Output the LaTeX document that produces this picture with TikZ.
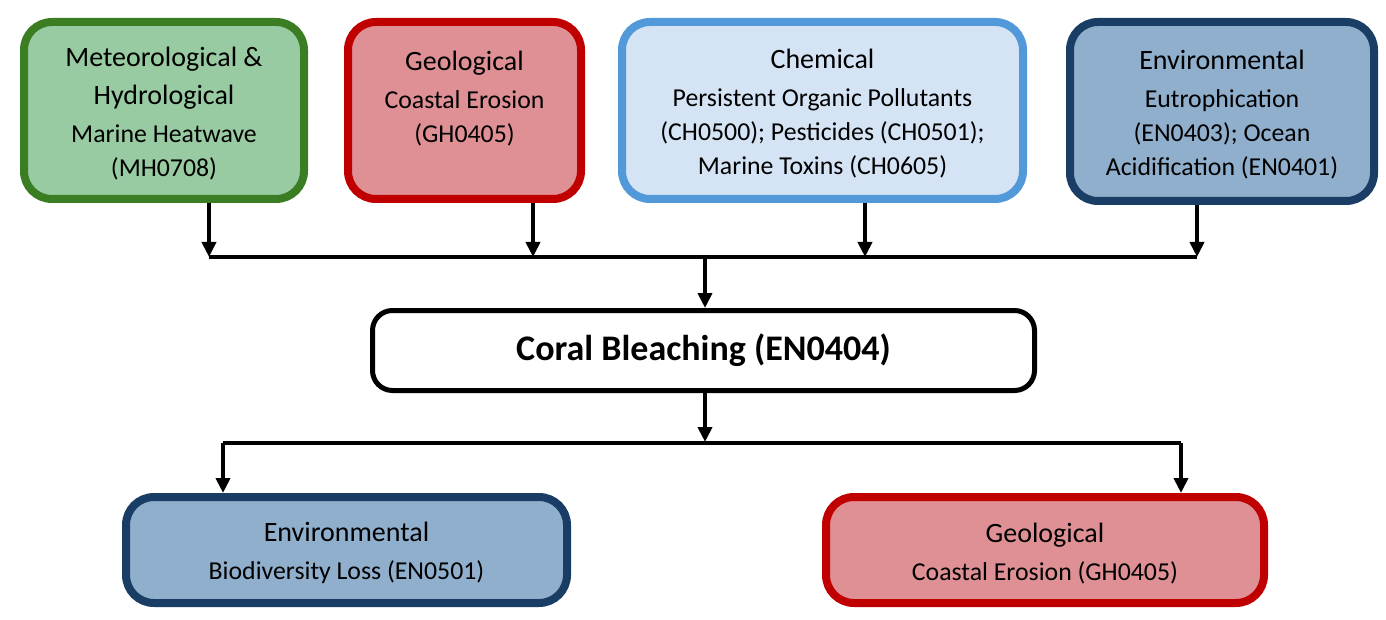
\documentclass[tikz,border=0pt]{standalone}
\usepackage{fontspec}
\setmainfont{Carlito}
\usetikzlibrary{arrows.meta}

\definecolor{metfill}{HTML}{98CBA1}
\definecolor{metline}{HTML}{3B7D23}
\definecolor{geofill}{HTML}{DF9095}
\definecolor{geoline}{HTML}{C00000}
\definecolor{chemfill}{HTML}{D5E4F5}
\definecolor{chemline}{HTML}{5299DA}
\definecolor{envfill}{HTML}{90AFCC}
\definecolor{envline}{HTML}{193D64}

\newcommand{\hd}[1]{{\fontsize{14}{17}\selectfont\rule{0pt}{13pt}#1}}

\begin{document}
\begin{tikzpicture}[x=0.5pt, y=-0.5pt,
    hazard/.style={draw, line width=4pt, rounded corners=14pt, align=center, inner sep=0pt,
      font=\fontsize{12.9}{17}\selectfont},
    wire/.style={line width=2pt},
    arr/.style={line width=2pt, -{Triangle[width=7pt,length=7.5pt]}}]
  \useasboundingbox (0,0) rectangle (1386,620);

  % hazard boxes on top
  \node[hazard, fill=metfill, draw=metline, minimum width=140pt, minimum height=88.5pt]
    (met) at (164,110.5) {\hd{Meteorological \&}\\[2pt]\hd{Hydrological}\\[2pt]Marine Heatwave\\(MH0708)};
  \node[hazard, fill=geofill, draw=geoline, minimum width=116.5pt, minimum height=88.5pt]
    (geo) at (464.5,110.5) {\hd{Geological}\\[2pt]Coastal Erosion\\(GH0405)\\\mbox{}};
  \node[hazard, fill=chemfill, draw=chemline, minimum width=200.5pt, minimum height=88.5pt]
    (chem) at (822.5,110.5) {\hd{Chemical}\\[2pt]Persistent Organic Pollutants\\(CH0500); Pesticides (CH0501);\\Marine Toxins (CH0605)};
  \node[hazard, fill=envfill, draw=envline, minimum width=152pt, minimum height=89.5pt]
    (env) at (1222,111.5) {\hd{Environmental}\\[2pt]Eutrophication\\(EN0403); Ocean\\Acidification (EN0401)};

  % the event
  \node[draw, line width=2.5pt, rounded corners=10pt, fill=white, minimum width=331pt, minimum height=40pt,
    font=\fontsize{18}{20}\selectfont\bfseries] (coral) at (703.5,350.5) {Coral Bleaching (EN0404)};

  % consequences
  \node[hazard, fill=envfill, draw=envline, minimum width=220.5pt, minimum height=53pt]
    (bio) at (346.5,550) {\hd{Environmental}\\[2pt]Biodiversity Loss (EN0501)};
  \node[hazard, fill=geofill, draw=geoline, minimum width=219pt, minimum height=53pt]
    (ero) at (1045,550) {\hd{Geological}\\[2pt]Coastal Erosion (GH0405)};

  % upper bus
  \coordinate (b1) at (209,257);
  \coordinate (b2) at (533,257);
  \coordinate (b3) at (865,257);
  \coordinate (b4) at (1197,257);
  \coordinate (bm) at (705,257);
  \draw[wire] (b1) -- (b4);
  \draw[arr] (met.south -| b1) -- (b1);
  \draw[arr] (geo.south -| b2) -- (b2);
  \draw[arr] (chem.south -| b3) -- (b3);
  \draw[arr] (env.south -| b4) -- (b4);
  \draw[arr] (bm) -- (coral.north -| bm);

  % lower bus
  \coordinate (bo) at (705,442);
  \coordinate (l1) at (223,443);
  \coordinate (l2) at (1181,443);
  \draw[wire] (l1) -- (l2);
  \draw[arr] (coral.south -| bo) -- (bo);
  \draw[arr] (l1) -- (bio.north -| l1);
  \draw[arr] (l2) -- (ero.north -| l2);
\end{tikzpicture}
\end{document}
